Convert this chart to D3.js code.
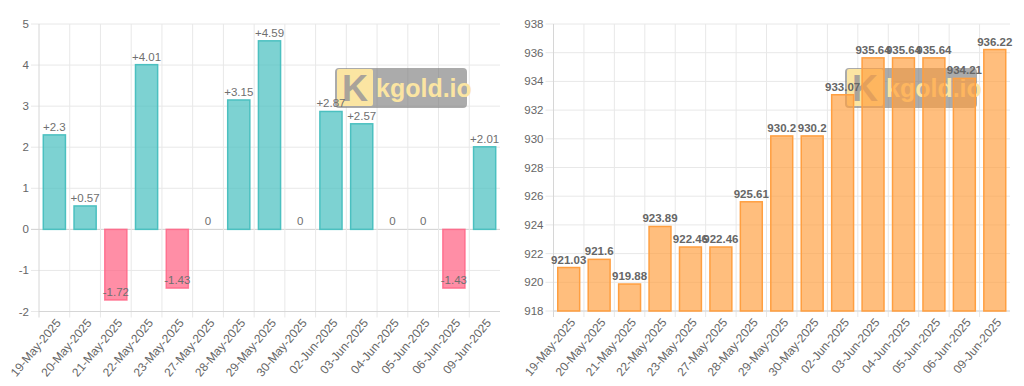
<!DOCTYPE html>
<html>
<head>
<meta charset="utf-8">
<script src="https://cdn.jsdelivr.net/npm/d3@7"></script>
<style>
    body { margin: 0; background: #fff; }
    svg { display: block; }
    text { font-family: "Liberation Sans", Arial, Helvetica, sans-serif; }
</style>
</head>
<body>
<svg id="charts" width="1024" height="386"></svg>
<script>

var dates = ["19-May-2025", "20-May-2025", "21-May-2025", "22-May-2025", "23-May-2025",
    "27-May-2025", "28-May-2025", "29-May-2025", "30-May-2025", "02-Jun-2025",
    "03-Jun-2025", "04-Jun-2025", "05-Jun-2025", "06-Jun-2025", "09-Jun-2025"];

var changes = [2.3, 0.57, -1.72, 4.01, -1.43, 0, 3.15, 4.59, 0, 2.87, 2.57, 0, 0, -1.43, 2.01];

var prices = [921.03, 921.6, 919.88, 923.89, 922.46, 922.46, 925.61, 930.2, 930.2, 933.07,
    935.64, 935.64, 935.64, 934.21, 936.22];

var changeTicks = [-2, -1, 0, 1, 2, 3, 4, 5];
var priceTicks = [918, 920, 922, 924, 926, 928, 930, 932, 934, 936, 938];

var svg = d3.select("#charts");

drawChart({
    left: 39, right: 500, top: 24, bottom: 311.5,
    values: changes, ticks: changeTicks, domain: [-2, 5],
    fill: function(d){ return d < 0 ? "rgba(255,99,132,0.72)" : "rgba(75,192,192,0.72)" },
    stroke: function(d){ return d < 0 ? "rgba(255,99,132,0.8)" : "rgb(75,192,192)" },
    label: function(d){ return d > 0 ? "+" + d : String(d) },
    labelWeight: "normal", labelColor: "#6f6f6f",
    zeroLine: true
});

drawChart({
    left: 553.5, right: 1010, top: 24, bottom: 311,
    values: prices, ticks: priceTicks, domain: [918, 938],
    fill: function(){ return "rgba(255,159,64,0.68)" },
    stroke: function(){ return "rgb(255,159,64)" },
    label: function(d){ return String(d) },
    labelWeight: "bold", labelColor: "#666",
    zeroLine: false
});


function drawChart(c) {

    var g = svg.append("g");

    var x = d3.scaleBand()
        .domain(dates)
        .range([c.left, c.right])
        .padding(0);

    var y = d3.scaleLinear()
        .domain(c.domain)
        .range([c.bottom, c.top]);

    var barW = x.bandwidth() * 0.72;
    var base = y(Math.max(c.domain[0], 0));

    /* горизонтальна сітка */
    g.selectAll(".hgrid")
        .data(c.ticks)
        .enter()
        .append("line")
        .attr("x1", c.left - 8)
        .attr("x2", c.right)
        .attr("y1", function(d){ return y(d) })
        .attr("y2", function(d){ return y(d) })
        .attr("stroke", function(d){ return (c.zeroLine && d === 0) ? "#cfcfcf" : "#e8e8e8" })
        .attr("stroke-width", 1);

    /* вертикальна сітка */
    g.selectAll(".vgrid")
        .data(dates)
        .enter()
        .append("line")
        .attr("x1", function(d){ return x(d) })
        .attr("x2", function(d){ return x(d) })
        .attr("y1", c.top)
        .attr("y2", c.bottom + 6)
        .attr("stroke", function(d, i){ return i === 0 ? "#d6d6d6" : "#e8e8e8" })
        .attr("stroke-width", 1);

    // bottom axis line
    g.append("line")
        .attr("x1", c.left)
        .attr("x2", c.right)
        .attr("y1", c.bottom)
        .attr("y2", c.bottom)
        .attr("stroke", "#d6d6d6");

    /* y labels */
    g.selectAll(".ylab")
        .data(c.ticks)
        .enter()
        .append("text")
        .attr("x", c.left - 10)
        .attr("y", function(d){ return y(d) })
        .attr("dy", "0.35em")
        .attr("text-anchor", "end")
        .attr("font-size", "11.5px")
        .attr("fill", "#666")
        .text(function(d){ return d });

    /* x labels */
    g.selectAll(".xlab")
        .data(dates)
        .enter()
        .append("text")
        .attr("transform", function(d){
            return "translate(" + (x(d) + x.bandwidth() / 2 + 4) + "," + (c.bottom + 9) + ") rotate(-50)";
        })
        .attr("dy", "0.35em")
        .attr("text-anchor", "end")
        .attr("font-size", "12px")
        .attr("fill", "#666")
        .text(function(d){ return d });

    /* watermark */
    var wm = g.append("g")
        .attr("transform", "translate(" + (c.right - 165) + "," + (c.top + 44) + ")");

    wm.append("rect")
        .attr("width", 132)
        .attr("height", 40)
        .attr("rx", 4)
        .attr("fill", "rgba(120,120,120,0.62)");

    wm.append("rect")
        .attr("x", 2)
        .attr("y", 1)
        .attr("width", 36)
        .attr("height", 37)
        .attr("rx", 2)
        .attr("fill", "#fbe5a2");

    wm.append("text")
        .attr("x", 20)
        .attr("y", 33)
        .attr("text-anchor", "middle")
        .attr("font-size", "36px")
        .attr("font-weight", "bold")
        .attr("fill", "#a9a39a")
        .text("K");

    wm.append("text")
        .attr("x", 41)
        .attr("y", 29)
        .attr("font-size", "25px")
        .attr("font-weight", "bold")
        .attr("fill", "#fbe5a2")
        .text("kgold.io");

    /* барчики */
    g.selectAll(".bar")
        .data(c.values)
        .enter()
        .append("rect")
        .attr("class", "bar")
        .attr("x", function(d, i){ return x(dates[i]) + (x.bandwidth() - barW) / 2 })
        .attr("y", function(d){ return Math.min(y(d), base) })
        .attr("width", barW)
        .attr("height", function(d){ return Math.abs(y(d) - base) })
        .attr("fill", function(d){ return c.fill(d) })
        .attr("stroke", function(d){ return d === 0 && c.zeroLine ? "none" : c.stroke(d) })
        .attr("stroke-width", 1.5);

    /* підписи */
    g.selectAll(".bar-label")
        .data(c.values)
        .enter()
        .append("text")
        .attr("class", "bar-label")
        .attr("x", function(d, i){ return x(dates[i]) + x.bandwidth() / 2 })
        .attr("y", function(d){ return y(d) - 4 })
        .attr("text-anchor", "middle")
        .attr("font-size", "11.5px")
        .attr("font-weight", c.labelWeight)
        .attr("fill", c.labelColor)
        .text(function(d){ return c.label(d) });
}

</script>
</body>
</html>
